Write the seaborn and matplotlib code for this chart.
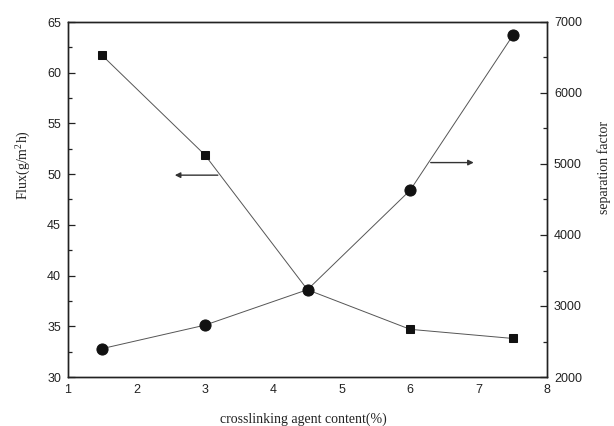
import numpy as np
import pandas as pd
import seaborn as sns
import matplotlib
matplotlib.use("Agg")
import matplotlib.pyplot as plt
from matplotlib.ticker import MultipleLocator

content = [1.5, 3.0, 4.5, 6.0, 7.5]
flux = [61.7, 51.9, 38.6, 34.7, 33.8]
separation = [2400, 2730, 3230, 4630, 6810]

sns.set_theme(style="white")
plt.rcParams['font.family'] = ['Liberation Sans', 'DejaVu Sans']
plt.rcParams['mathtext.fontset'] = 'custom'
plt.rcParams['mathtext.rm'] = 'Liberation Serif'

fig = plt.figure(figsize=(6.14, 4.26), dpi=100)
ax = fig.add_axes([68/614, 49/426, 479/614, 355/426])
ax2 = ax.twinx()

df = pd.DataFrame({"content": content, "flux": flux, "separation": separation})

line_kw = dict(color="#555555", linewidth=0.7)
sns.lineplot(data=df, x="content", y="flux", ax=ax, marker="s", markersize=6,
             markerfacecolor="#111111", markeredgecolor="#111111", **line_kw)
sns.lineplot(data=df, x="content", y="separation", ax=ax2, marker="o", markersize=8,
             markerfacecolor="#111111", markeredgecolor="#111111", **line_kw)

ax.set_xlim(1, 8)
ax.set_ylim(30, 65)
ax2.set_ylim(2000, 7000)
ax.xaxis.set_major_locator(MultipleLocator(1))
ax.xaxis.set_minor_locator(MultipleLocator(0.5))
ax.yaxis.set_major_locator(MultipleLocator(5))
ax.yaxis.set_minor_locator(MultipleLocator(2.5))
ax2.yaxis.set_major_locator(MultipleLocator(1000))
ax2.yaxis.set_minor_locator(MultipleLocator(500))

for a in (ax, ax2):
    for s in a.spines.values():
        s.set_color("#222222")
        s.set_linewidth(1.0)
    a.tick_params(which="both", direction="in", colors="#222222", labelsize=9, width=0.9)
    a.tick_params(which="major", length=5)
    a.tick_params(which="minor", length=3)
ax.tick_params(axis="both", which="both", top=False, right=False, pad=5)
ax2.tick_params(axis="y", which="both", left=False, right=True, pad=5)

ax.set_xlabel("")
ax.set_ylabel("")
ax2.set_ylabel("")
serif = ['Liberation Serif', 'DejaVu Serif']
fig.text(303/614, 1 - 419/426, "crosslinking agent content(%)", family=serif,
         fontsize=10, ha="center", va="center", color="#222222")
fig.text(23/614, 1 - 165/426, r"Flux(g/m$^2$h)", family=serif, fontsize=10,
         rotation=90, ha="center", va="center", color="#222222")
fig.text(604/614, 1 - 167/426, "separation factor", family=serif, fontsize=10,
         rotation=90, ha="center", va="center", color="#222222")

arrow_kw = dict(arrowstyle="-|>", color="#333333", lw=1.0, mutation_scale=8)
ax.annotate("", xy=(2.52, 49.9), xytext=(3.23, 49.9), arrowprops=arrow_kw)
ax2.annotate("", xy=(6.97, 5020), xytext=(6.26, 5020), arrowprops=arrow_kw)

fig.savefig("out.png", dpi=100)
